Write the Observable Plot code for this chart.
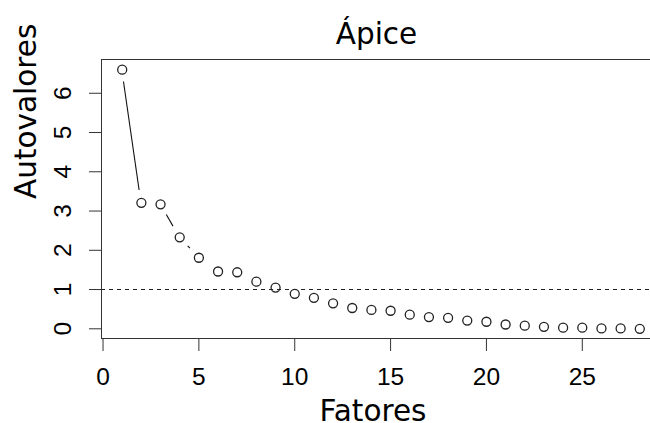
<!DOCTYPE html>
<html><head><meta charset="utf-8">
<script src="https://cdn.jsdelivr.net/npm/d3@7"></script>
<script src="https://cdn.jsdelivr.net/npm/@observablehq/plot@0.6"></script>
<style>
body{margin:0;background:#fff}
#chart{width:650px;height:423px;overflow:hidden}
#chart svg{max-width:none !important;height:423px !important}
</style>
</head><body><div id="chart"></div>
<script>
const title = "Ápice";
const xLabel = "Fatores";
const yLabel = "Autovalores";
const factors = [1,2,3,4,5,6,7,8,9,10,11,12,13,14,15,16,17,18,19,20,21,22,23,24,25,26,27,28];
const eigenvalues = [6.60,3.21,3.17,2.33,1.81,1.46,1.44,1.20,1.05,0.89,0.79,0.65,0.53,0.48,0.46,0.36,0.30,0.28,0.21,0.18,0.11,0.08,0.05,0.03,0.03,0.01,0.01,0.00];
const xTicks = [0,5,10,15,20,25];
const yTicks = [0,1,2,3,4,5,6];
const threshold = [1];

const data = factors.map((f,i)=>({f, v: eigenvalues[i]}));
const pairs = data.slice(1).map((d,i)=>({a: data[i], b: d}));

const GAP = 12.4;
function gapRender(index, scales, values) {
  const g = d3.create("svg:g").attr("stroke","#111").attr("stroke-width",1.1).attr("fill","none");
  for (const i of index) {
    const x1=values.x1[i], y1=values.y1[i], x2=values.x2[i], y2=values.y2[i];
    const dx=x2-x1, dy=y2-y1, L=Math.hypot(dx,dy);
    if (L <= 2*GAP) continue;
    const ux=dx/L, uy=dy/L;
    g.append("line")
      .attr("x1",x1+ux*GAP).attr("y1",y1+uy*GAP)
      .attr("x2",x2-ux*GAP).attr("y2",y2-uy*GAP);
  }
  return g.node();
}

const chart = Plot.plot({
  width: 660, height: 423,
  marginLeft: 101, marginRight: 0, marginTop: 59, marginBottom: 85,
  x: {domain: [-0.08, 29.08]},
  y: {domain: [-0.247, 6.86]},
  style: {fontFamily: "'Liberation Sans', Arial, sans-serif", fontSize: "24.5px", color: "#000", background: "#fff", maxWidth: "none"},
  marks: [
    Plot.frame({stroke: "#333"}),
    Plot.axisX({ticks: xTicks, tickSize: 13, tickPadding: 15.7, fontSize: 24.5, label: null, stroke: "#333"}),
    Plot.axisY({ticks: yTicks, tickSize: 12, tickPadding: 19, tickRotate: -90, fontSize: 24.5, label: null, stroke: "#333"}),
    Plot.ruleY(threshold, {stroke: "#222", strokeDasharray: "4,4", strokeWidth: 1.1}),
    Plot.link(pairs, {x1: d=>d.a.f, y1: d=>d.a.v, x2: d=>d.b.f, y2: d=>d.b.v, render: gapRender}),
    Plot.dot(data, {x: "f", y: "v", r: 4.5, stroke: "#222", strokeWidth: 1.3, fill: "none"}),
    Plot.text([title], {text: d=>d, frameAnchor: "top", lineAnchor: "bottom", dy: -15.7, dx: -4.5, fontFamily: "DejaVu Sans", fontSize: 29.5}),
    Plot.text([xLabel], {text: d=>d, frameAnchor: "bottom", lineAnchor: "bottom", dy: 82, dx: -8, fontFamily: "DejaVu Sans", fontSize: 29.5}),
    Plot.text([yLabel], {text: d=>d, frameAnchor: "left", lineAnchor: "bottom", rotate: -90, dx: -66, fontFamily: "DejaVu Sans", fontSize: 29.5})
  ]
});
document.getElementById("chart").appendChild(chart);
</script>
</body></html>
